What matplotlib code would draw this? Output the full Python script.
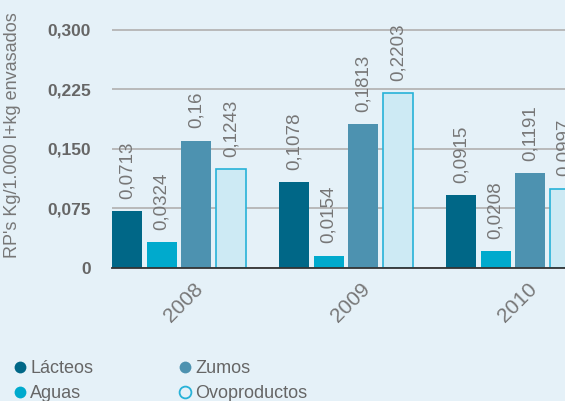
import matplotlib
matplotlib.use("Agg")
import matplotlib.pyplot as plt
import matplotlib.transforms as mtransforms
from matplotlib.lines import Line2D
import numpy as np

plt.rcParams['font.family'] = ['Liberation Sans', 'DejaVu Sans']

# datos (RP's Kg / 1.000 l+kg envasados)
years = ['2008', '2009', '2010']
series = ['Lácteos', 'Aguas', 'Zumos', 'Ovoproductos']
lacteos = [0.0713, 0.1078, 0.0915]
aguas = [0.0324, 0.0154, 0.0208]
zumos = [0.16, 0.1813, 0.1191]
ovo = [0.1243, 0.2203, 0.0997]
labels_lacteos = ['0,0713', '0,1078', '0,0915']
labels_aguas = ['0,0324', '0,0154', '0,0208']
labels_zumos = ['0,16', '0,1813', '0,1191']
labels_ovo = ['0,1243', '0,2203', '0,0997']
yticks = [0, 0.075, 0.150, 0.225, 0.300]
ytick_labels = ['0', '0,075', '0,150', '0,225', '0,300']

bg = '#e5f1f8'
colores = ['#006787', '#00aacd', '#4d92b0', '#cdeaf4']
bordes = ['#006787', '#00aacd', '#4d92b0', '#27b2d8']
gris = '#777777'

fig = plt.figure(figsize=(5.65, 4.01), dpi=100, facecolor=bg)
ax = fig.add_axes([112/565, 1-268/401, 1-112/565, 268/401])
ax.set_facecolor(bg)

x = np.arange(len(years))
step = 0.207
ancho = 0.18
datos = [lacteos, aguas, zumos, ovo]
etiquetas = [labels_lacteos, labels_aguas, labels_zumos, labels_ovo]
for i in range(4):
    pos = x + (i - 1.5) * step
    ax.bar(pos, datos[i], width=ancho, color=colores[i], edgecolor=bordes[i],
           linewidth=1.2 if i == 3 else 0, zorder=2)
    for p, v, t in zip(pos, datos[i], etiquetas[i]):
        ax.annotate(t, (p, v), xytext=(0, 9), textcoords='offset points',
                    rotation=90, ha='center', va='bottom', color=gris,
                    fontsize=13.5, zorder=4)

ax.set_ylim(0, 0.3375)
ax.set_xlim(-0.4006, 2.312)
ax.set_yticks(yticks)
ax.set_yticklabels(ytick_labels, fontsize=12.5, fontweight='bold', color='#666666')
ax.yaxis.grid(True, color='#b5b5b5', linewidth=1.3, zorder=0)
ax.set_axisbelow(True)
ax.tick_params(axis='y', length=0, pad=15)
ax.tick_params(axis='x', length=0, pad=8)
ax.set_xticks(x)
ax.set_xticklabels(years, rotation=45, ha='center', fontsize=15, color=gris)
off = mtransforms.ScaledTranslation(5/100, 0, fig.dpi_scale_trans)
for lab in ax.get_xticklabels():
    lab.set_transform(lab.get_transform() + off)
for s in ['top', 'right', 'left']:
    ax.spines[s].set_visible(False)
ax.spines['bottom'].set_color('#333333')
ax.spines['bottom'].set_linewidth(1.3)
ax.spines['bottom'].set_zorder(3)

ax.set_ylabel("RP's Kg/1.000 l+kg envasados", fontsize=13, color=gris, labelpad=10)
ax.yaxis.set_label_coords(-0.2, 0.497)

handles = []
for i in range(4):
    handles.append(Line2D([], [], linestyle='none', marker='o', markersize=8.5,
                          markerfacecolor=bg if i == 3 else colores[i],
                          markeredgecolor=bordes[i], markeredgewidth=1.3 if i == 3 else 0))
fig.legend(handles, series, loc='upper left', bbox_to_anchor=(12.8/565, 1-360/401),
           ncol=2, frameon=False, fontsize=13, handlelength=0.8, handletextpad=0.16,
           columnspacing=4.7, labelspacing=0.45, borderpad=0, borderaxespad=0,
           labelcolor='#666666')

fig.savefig('out.png', dpi=100, facecolor=bg)
